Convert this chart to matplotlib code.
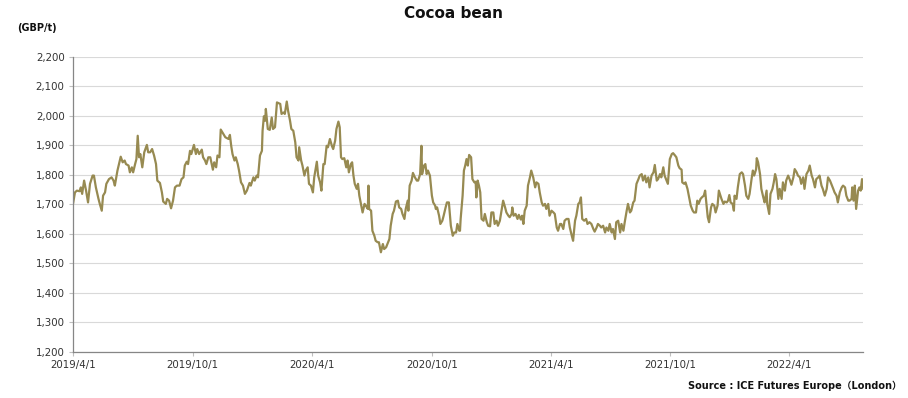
import matplotlib
matplotlib.use("Agg")
import matplotlib.pyplot as plt
import matplotlib.dates as mdates
import pandas as pd

# ---- data ----
start_date = "2019-04-01"
tick_dates = ["2019-04-01", "2019-10-01", "2020-04-01", "2020-10-01",
              "2021-04-01", "2021-10-01", "2022-04-01"]
tick_labels = ["2019/4/1", "2019/10/1", "2020/4/1", "2020/10/1",
               "2021/4/1", "2021/10/1", "2022/4/1"]
y_ticks = [1200, 1300, 1400, 1500, 1600, 1700, 1800, 1900, 2000, 2100, 2200]

# days after start_date, and price (GBP/t)
day_offset = [
    0, 3, 6, 10, 12, 14, 17, 20, 23, 26, 30, 32, 35, 39, 41, 44, 46, 49, 51, 55,
    59, 62, 64, 68, 71, 73, 76, 79, 81, 85, 87, 90, 92, 95, 97, 99, 101, 103, 106, 109,
    113, 115, 118, 121, 124, 127, 129, 133, 136, 138, 142, 144, 147, 150, 153, 156, 159, 163, 166, 169,
    171, 174, 176, 179, 181, 185, 188, 190, 193, 197, 199, 202,
    204, 207, 210, 214, 216, 219, 221, 224, 226, 230, 233, 238, 240, 242, 244, 247, 249, 252, 254, 257,
    260, 263, 266, 270, 272, 276, 278, 281, 283, 286, 289, 290, 292, 294, 295, 298, 301, 304, 306, 309,
    312, 317, 319, 322, 324, 327, 329, 332, 334, 337, 340, 342, 345, 346, 349, 351, 354, 356, 359, 361,
    364, 367, 369, 373, 375, 378, 380, 383, 385, 388, 390, 393,
    396, 398, 401, 403, 406, 408, 410, 412, 415, 418, 420, 422, 425, 427, 429, 431, 434, 436, 438, 440,
    443, 446, 448, 451, 452, 453, 456, 458, 461, 463, 466, 468, 471, 474, 476, 479, 481, 484, 486, 489,
    491, 494, 497, 499, 502, 504, 507, 509, 512, 513, 515, 518, 520, 523, 526, 528, 531, 533, 534, 537,
    539, 541, 543, 546, 549, 551, 554, 555, 557, 560, 562, 565, 567, 570, 572, 575, 578, 581, 583, 586,
    588, 591,
    592, 593, 596, 598, 600, 602, 604, 606, 609, 611, 614, 616, 617, 619, 621, 623, 625, 628, 630, 633,
    635, 638, 640, 643, 645, 648, 650, 653, 656, 658, 661, 663, 666, 668, 671, 672, 674, 677, 680, 682,
    685, 687, 689, 691, 694, 696, 699, 701, 704, 707, 709, 712, 714, 717, 719, 722, 724, 727, 729, 732,
    735, 737, 740, 742, 745, 747, 750, 752, 755, 758, 760, 763, 765, 768, 770, 773, 775, 777, 779, 782,
    785, 787, 790,
    793, 796, 798, 801, 803, 806, 808, 811, 814, 816, 819, 821, 824, 826, 829, 831, 834, 837, 839, 842,
    844, 847, 849, 852, 854, 857, 859, 862, 865, 867, 870, 872, 875, 877, 880, 882, 885, 888, 890, 893,
    895, 898, 900, 903, 905, 908, 910, 913, 916, 918, 921, 923, 926, 928, 931, 932, 935, 937, 940, 943,
    945, 948, 950, 953, 955, 957, 960, 962, 965, 967, 969, 971, 973, 976, 978, 981, 983, 986, 988,
    992, 995, 997, 1000, 1002, 1004, 1006, 1009, 1011, 1012, 1015, 1017, 1020, 1023, 1025, 1028, 1030, 1033, 1035, 1038,
    1040, 1042, 1045, 1046, 1048, 1051, 1053, 1056, 1058, 1061, 1062, 1065, 1067, 1070, 1072, 1074, 1076, 1079, 1081, 1084,
    1086, 1089, 1091, 1094, 1097, 1099, 1102, 1104, 1107, 1109, 1112, 1114, 1117, 1119, 1122, 1125, 1127, 1130, 1132, 1135,
    1137, 1140, 1142, 1145, 1147, 1150, 1153, 1155, 1158, 1160, 1163, 1165, 1168, 1170, 1173, 1176, 1178, 1181, 1183, 1186,
    1188, 1191, 1192, 1194, 1196, 1198, 1201, 1203, 1205, 1207, 1209,
]
price = [
    1702, 1741, 1747, 1745, 1758, 1736, 1781, 1747, 1707, 1770, 1798, 1798, 1758, 1719, 1702, 1679, 1730, 1741, 1770, 1786,
    1792, 1781, 1764, 1815, 1843, 1862, 1843, 1849, 1837, 1832, 1809, 1826, 1809, 1837, 1854, 1933, 1860, 1871, 1826, 1877,
    1902, 1877, 1877, 1888, 1866, 1837, 1781, 1773, 1741, 1710, 1702, 1719, 1713, 1687, 1713, 1758, 1764, 1764, 1786, 1792,
    1832, 1845, 1837, 1882, 1871, 1902, 1871, 1888, 1871, 1886, 1860, 1849,
    1837, 1860, 1860, 1818, 1843, 1826, 1866, 1860, 1954, 1939, 1928, 1922, 1936, 1899, 1871, 1849, 1860, 1837, 1815, 1775,
    1764, 1736, 1747, 1773, 1764, 1792, 1781, 1798, 1792, 1866, 1882, 1950, 1999, 1984, 2024, 1956, 1953, 1995, 1956, 1962,
    2046, 2041, 2007, 2012, 2007, 2049, 2018, 1984, 1956, 1950, 1911, 1860, 1849, 1894, 1849, 1832, 1798, 1815, 1826, 1770,
    1764, 1741, 1792, 1845, 1798, 1775, 1747, 1837, 1837, 1899, 1894, 1922,
    1899, 1888, 1916, 1956, 1981, 1962, 1860, 1854, 1857, 1826, 1849, 1809, 1837, 1843, 1798, 1770, 1753, 1770, 1730, 1707,
    1673, 1702, 1696, 1685, 1764, 1685, 1679, 1611, 1594, 1577, 1572, 1572, 1538, 1566, 1549, 1555, 1566, 1583, 1628, 1668,
    1679, 1710, 1713, 1690, 1685, 1668, 1651, 1685, 1713, 1679, 1764, 1781, 1807, 1792, 1781, 1781, 1803, 1899, 1803, 1832,
    1837, 1803, 1815, 1798, 1730, 1707, 1696, 1685, 1690, 1662, 1634, 1645, 1662, 1690, 1707, 1707, 1628, 1594, 1605, 1605,
    1634, 1611,
    1611, 1651, 1730, 1815, 1832, 1854, 1832, 1868, 1860, 1786, 1775, 1777, 1724, 1781, 1764, 1741, 1651, 1645, 1668, 1640,
    1628, 1626, 1673, 1673, 1634, 1645, 1628, 1645, 1685, 1713, 1690, 1673, 1662, 1657, 1668, 1690, 1662, 1668, 1651, 1665,
    1649, 1662, 1634, 1679, 1696, 1764, 1792, 1815, 1792, 1758, 1775, 1770, 1741, 1707, 1696, 1702, 1685, 1702, 1662, 1679,
    1673, 1668, 1622, 1611, 1634, 1634, 1617, 1645, 1651, 1651, 1622, 1594, 1577, 1645, 1662, 1702, 1707, 1724, 1651, 1645,
    1651, 1634, 1640,
    1634, 1617, 1608, 1622, 1634, 1628, 1622, 1628, 1605, 1622, 1611, 1634, 1605, 1617, 1583, 1640, 1645, 1605, 1634, 1611,
    1640, 1679, 1702, 1673, 1679, 1707, 1713, 1770, 1786, 1798, 1803, 1781, 1798, 1775, 1792, 1758, 1798, 1809, 1834, 1781,
    1786, 1803, 1792, 1826, 1798, 1781, 1770, 1854, 1871, 1874, 1866, 1860, 1832, 1823, 1818, 1775, 1770, 1775, 1753, 1719,
    1696, 1679, 1673, 1673, 1713, 1702, 1719, 1724, 1730, 1747, 1702, 1657, 1640, 1690, 1702, 1696, 1673, 1696, 1747,
    1719, 1702, 1710, 1707, 1713, 1732, 1707, 1702, 1679, 1730, 1719, 1758, 1803, 1809, 1803, 1764, 1730, 1719, 1736, 1786,
    1815, 1798, 1820, 1857, 1843, 1803, 1753, 1724, 1707, 1747, 1702, 1668, 1736, 1753, 1775, 1803, 1786, 1719, 1753, 1719,
    1775, 1747, 1781, 1798, 1781, 1767, 1792, 1820, 1809, 1798, 1792, 1770, 1792, 1753, 1803, 1815, 1832, 1798, 1786, 1758,
    1786, 1792, 1798, 1764, 1753, 1730, 1753, 1792, 1781, 1770, 1753, 1741, 1730, 1707, 1741, 1758, 1764, 1758, 1730, 1713,
    1713, 1719, 1758, 1713, 1764, 1685, 1747, 1758, 1747, 1786, 1753,
]

title = "Cocoa bean"
unit_label = "(GBP/t)"
source_text = "Source : ICE Futures Europe（London）"
line_color = "#978A51"

# ---- figure ----
dates = pd.Timestamp(start_date) + pd.to_timedelta(day_offset, unit="D")

fig = plt.figure(figsize=(9.08, 3.98), dpi=100)
ax = fig.add_axes([0.0804, 0.1156, 0.8704, 0.7412])

ax.plot(dates, price, color=line_color, linewidth=1.6, solid_joinstyle="round")

ax.set_ylim(1200, 2200)
ax.set_yticks(y_ticks)
ax.set_yticklabels([f"{v:,}" for v in y_ticks])
ax.set_xlim(dates[0], dates[-1])
ax.set_xticks(pd.to_datetime(tick_dates))
ax.set_xticklabels(tick_labels)

ax.grid(axis="y", color="#D9D9D9", linewidth=0.8)
ax.set_axisbelow(True)
for s in ["top", "right"]:
    ax.spines[s].set_visible(False)
for s in ["left", "bottom"]:
    ax.spines[s].set_color("#868686")
    ax.spines[s].set_linewidth(0.9)

ax.tick_params(axis="y", length=3, width=0.8, color="#BFBFBF", pad=3,
               labelsize=7.4, labelcolor="#333333")
ax.tick_params(axis="x", length=3, width=0.8, color="#BFBFBF", pad=3,
               labelsize=7.4, labelcolor="#333333")

fig.text(0.499, 0.965, title, ha="center", va="center",
         fontsize=11, fontweight="bold", color="#111111")
fig.text(0.019, 0.929, unit_label, ha="left", va="center",
         fontsize=7, fontweight="bold", color="#111111")
fig.text(0.993, 0.031, source_text, ha="right", va="center",
         fontsize=7, fontweight="bold", color="#111111",
         family=["DejaVu Sans", "Noto Sans CJK JP"])

fig.savefig("out.png", dpi=100)
